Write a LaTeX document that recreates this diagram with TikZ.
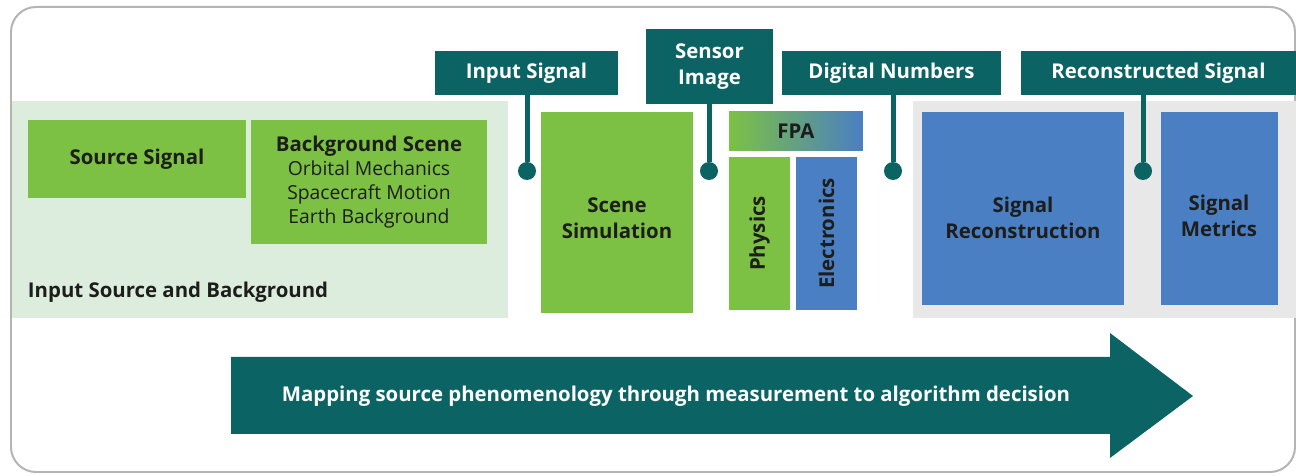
\documentclass[tikz,border=0pt]{standalone}
\usepackage{fontspec}
\setmainfont{Open Sans}
\definecolor{leaf}{HTML}{7CC143}
\definecolor{sky}{HTML}{4A7FC3}
\definecolor{deep}{HTML}{0B6363}
\definecolor{mist}{HTML}{DDEDDD}
\definecolor{fog}{HTML}{E8E8E8}
\definecolor{rim}{HTML}{B4B4B4}
\definecolor{ink}{HTML}{1D1D1B}
\begin{document}
\begin{tikzpicture}[x=0.02cm, y=-0.02cm,
  blk/.style={inner sep=0pt, outer sep=0pt, align=center, text=ink,
    font=\bfseries\fontsize{11.6}{14.7}\selectfont},
  leafbox/.style={blk, anchor=north west, fill=leaf},
  skybox/.style={blk, anchor=north west, fill=sky},
  tag/.style={blk, anchor=north west, fill=deep, text=white},
  dot/.style={circle, fill=deep, minimum size=0.36cm, inner sep=0pt},
  stem/.style={deep, line width=0.1cm}]
\useasboundingbox (0,0) rectangle (1296,476);
% Frame
\draw[rim, line width=0.04cm, rounded corners=0.5cm] (11,7) rectangle (1295,472);
% Panels
\node[blk, anchor=north west, fill=mist, minimum width=9.92cm, minimum height=4.34cm] (inpanel) at (12,101) {};
\node[blk, anchor=north west, fill=fog, minimum width=7.66cm, minimum height=4.34cm] (outpanel) at (913,101) {};
\node[blk, anchor=base west] (inlabel) at (28,298) {Input Source and Background};
% Source and background
\node[leafbox, minimum width=4.36cm, minimum height=1.56cm] (src) at (28,120) {Source Signal};
\node[leafbox, minimum width=4.72cm, minimum height=2.48cm,
  font=\bfseries\fontsize{11.6}{13.6}\selectfont] (bg) at (251,120)
  {Background Scene\\\mdseries\fontsize{11}{13.6}\selectfont Orbital Mechanics\\\mdseries\fontsize{11}{13.6}\selectfont Spacecraft Motion\\\mdseries\fontsize{11}{13.6}\selectfont Earth Background};
% Sensor chain
\node[leafbox, minimum width=3.04cm, minimum height=4.02cm] (scene) at (541,112) {};
\node[blk] (scenetxt) at (617,218) {Scene\\Simulation};
\node[blk, anchor=north west, left color=leaf, right color=sky, minimum width=2.68cm, minimum height=0.78cm] (fpa) at (729,112) {FPA};
\node[blk, fill=leaf, rotate=90, minimum width=3.06cm, minimum height=1.22cm] (phys) at (759.5,233.5) {Physics};
\node[blk, fill=sky, rotate=90, minimum width=3.06cm, minimum height=1.22cm] (elec) at (826.5,233.5) {Electronics};
% Processing
\node[skybox, minimum width=4.04cm, minimum height=3.86cm] (recon) at (922,112) {};
\node[blk] (recontxt) at (1023,218) {Signal\\Reconstruction};
\node[skybox, minimum width=2.34cm, minimum height=3.86cm] (metrics) at (1161,112) {};
\node[blk] (metricstxt) at (1219,215.5) {Signal\\Metrics};
% Tags
\node[tag, minimum width=3.66cm, minimum height=0.88cm] (tagin) at (435,51) {Input Signal};
\node[tag, minimum width=2.54cm, minimum height=1.5cm] (tagsens) at (646,29) {Sensor\\Image};
\node[tag, minimum width=4.38cm, minimum height=0.88cm] (tagdig) at (782,51) {Digital Numbers};
\node[tag, minimum width=5.5cm, minimum height=0.88cm] (tagrec) at (1021,51) {Reconstructed Signal};
\node[dot] (dotin) at (527,171) {};
\node[dot] (dotsens) at (709,171) {};
\node[dot] (dotdig) at (893,171) {};
\node[dot] (dotrec) at (1143,171) {};
\draw[stem] (dotin) -- (dotin |- tagin.south);
\draw[stem] (dotsens) -- (dotsens |- tagsens.south);
\draw[stem] (dotdig) -- (dotdig |- tagdig.south);
\draw[stem] (dotrec) -- (dotrec |- tagrec.south);
% Flow arrow
\fill[deep] (231,357) -- (1110,357) -- (1110,333) -- (1193,396) -- (1110,458) -- (1110,434) -- (231,434) -- cycle;
\node[blk, text=white] (flow) at (676,396) {Mapping source phenomenology through measurement to algorithm decision};
\end{tikzpicture}
\end{document}
